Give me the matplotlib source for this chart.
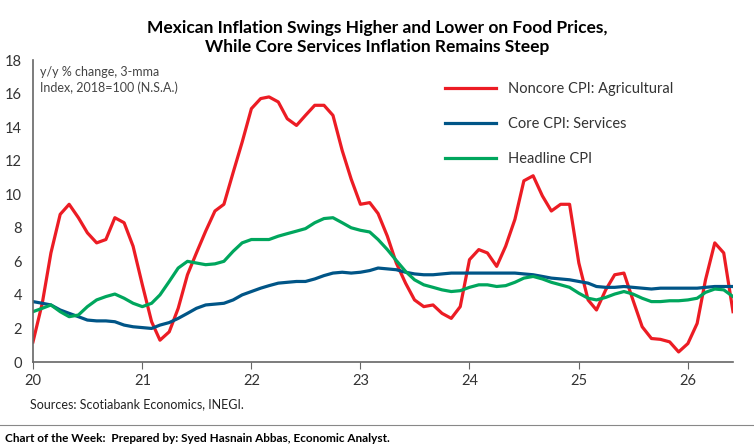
import numpy as np
import pandas as pd
import matplotlib

matplotlib.use("Agg")
import matplotlib.pyplot as plt
from matplotlib.lines import Line2D

# monthly, Jan 2020 .. Jun 2026
dates = pd.date_range("2020-01-01", periods=78, freq="MS")

agri = [1.2, 3.5, 6.5, 8.8, 9.4, 8.6, 7.7, 7.1, 7.3, 8.6, 8.3, 6.9,
        4.6, 2.4, 1.3, 1.8, 3.2, 5.2, 6.5, 7.8, 9.0, 9.4, 11.3, 13.1,
        15.1, 15.7, 15.8, 15.5, 14.5, 14.1, 14.7, 15.3, 15.3, 14.7, 12.6, 10.9,
        9.4, 9.5, 8.85, 7.5, 5.9, 4.7, 3.7, 3.3, 3.4, 2.9, 2.6, 3.3,
        6.1, 6.7, 6.5, 5.7, 6.9, 8.5, 10.8, 11.1, 9.9, 9.0, 9.4, 9.4,
        5.9, 3.7, 3.1, 4.3, 5.2, 5.3, 3.7, 2.1, 1.4, 1.35, 1.2, 0.6,
        1.1, 2.3, 4.9, 7.1, 6.5, 3.0]
services = [3.6, 3.5, 3.4, 3.1, 2.9, 2.7, 2.5, 2.45, 2.45, 2.4, 2.2, 2.1,
            2.05, 2.0, 2.2, 2.35, 2.6, 2.9, 3.2, 3.4, 3.45, 3.5, 3.7, 4.0,
            4.2, 4.4, 4.55, 4.7, 4.75, 4.8, 4.8, 4.95, 5.15, 5.3, 5.35, 5.3,
            5.35, 5.45, 5.6, 5.55, 5.5, 5.35, 5.25, 5.2, 5.2, 5.25, 5.3, 5.3,
            5.3, 5.3, 5.3, 5.3, 5.3, 5.3, 5.25, 5.2, 5.1, 5.0, 4.95, 4.9,
            4.8, 4.7, 4.5, 4.45, 4.45, 4.5, 4.45, 4.4, 4.35, 4.4, 4.4, 4.4,
            4.4, 4.4, 4.45, 4.5, 4.5, 4.5]
headline = [3.0, 3.2, 3.4, 3.0, 2.7, 2.8, 3.3, 3.7, 3.9, 4.05, 3.8, 3.5,
            3.3, 3.5, 4.0, 4.8, 5.6, 6.0, 5.9, 5.8, 5.85, 6.0, 6.6, 7.1,
            7.3, 7.3, 7.3, 7.5, 7.65, 7.8, 7.95, 8.3, 8.55, 8.6, 8.3, 8.0,
            7.85, 7.75, 7.3, 6.7, 6.05, 5.4, 4.9, 4.6, 4.45, 4.3, 4.2, 4.25,
            4.45, 4.6, 4.6, 4.5, 4.55, 4.75, 5.0, 5.1, 4.95, 4.75, 4.6, 4.45,
            4.1, 3.8, 3.7, 3.85, 4.05, 4.2, 4.05, 3.8, 3.6, 3.6, 3.65, 3.65,
            3.7, 3.8, 4.15, 4.35, 4.3, 3.9]

labels = ["Noncore CPI: Agricultural", "Core CPI: Services", "Headline CPI"]
colors = ["#ec1c24", "#005587", "#00a65d"]
years = [2020, 2021, 2022, 2023, 2024, 2025, 2026]

plt.rcParams["font.family"] = "Lato"

fig = plt.figure(figsize=(7.54, 4.47), dpi=100)
ax = fig.add_axes([33 / 754, 85 / 447, 700 / 754, 302 / 447])

for s, c, lab in zip([agri, services, headline], colors, labels):
    ax.plot(dates, s, color=c, lw=2.3, label=lab)

ax.set_ylim(0, 18)
ax.set_yticks(range(0, 19, 2))
ax.set_xlim(pd.Timestamp("2020-01-01"), pd.Timestamp("2026-06-01"))
ax.set_xticks([pd.Timestamp(f"{y}-01-01") for y in years])
ax.set_xticklabels([str(y)[2:] for y in years])
for side in ["top", "right"]:
    ax.spines[side].set_visible(False)
for side in ["left", "bottom"]:
    ax.spines[side].set_color("#666666")
    ax.spines[side].set_linewidth(1.2)
ax.tick_params(axis="y", length=0, labelsize=10.5, colors="#333333", pad=8)
ax.tick_params(axis="x", length=5, direction="out", color="#666666",
               labelsize=10.5, labelcolor="#333333")

ax.text(0.01, 0.98, "y/y % change, 3-mma\nIndex, 2018=100 (N.S.A.)",
        transform=ax.transAxes, va="top", ha="left", fontsize=9,
        color="#444444", linespacing=1.3)

leg = ax.legend(loc="upper left", bbox_to_anchor=(0.57, 0.97), frameon=False,
                fontsize=10.5, handlelength=3.5, labelspacing=1.45,
                labelcolor="#333333")

fig.text(0.5, 0.955, "Mexican Inflation Swings Higher and Lower on Food Prices,\n"
         "While Core Services Inflation Remains Steep",
         ha="center", va="top", fontsize=12.5, fontweight="bold",
         linespacing=1.25)
fig.text(30 / 754, 1 - 404 / 447, "Sources: Scotiabank Economics, INEGI.",
         ha="left", va="center", fontsize=9, color="#222222")
fig.add_artist(Line2D([0, 1], [1 - 425 / 447] * 2, color="#888888", lw=0.8))
fig.text(5 / 754, 1 - 438 / 447,
         "Chart of the Week:  Prepared by: Syed Hasnain Abbas, Economic Analyst.",
         ha="left", va="center", fontsize=8.5, fontweight="bold")

fig.savefig("out.png", dpi=100)
